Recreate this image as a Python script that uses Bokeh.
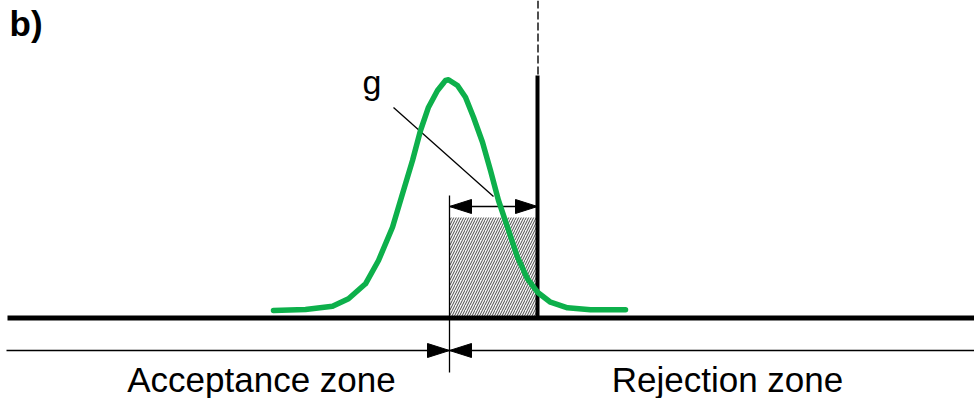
from bokeh.plotting import figure
from bokeh.models import Range1d
from bokeh.core.properties import value
from bokeh.embed import file_html
from bokeh.resources import INLINE

W, H = 974, 398

# Distribution curve (diagram coordinates, y grows downward)
curve_x = [273, 305, 332, 348, 365, 378, 392, 402, 412, 420, 428, 437, 445, 448,
           457, 465, 473, 482, 490, 498, 507, 517, 527, 537, 550, 567, 590, 625]
curve_y = [310, 309, 305.7, 298.3, 283.3, 260, 226.7, 193.3, 160, 130, 106.7, 90, 80, 79.3,
           85, 96.7, 116.7, 141.7, 170, 200, 226.7, 256.7, 278.3, 291.7, 301.7, 307.3, 309.3, 309.3]

# Axis lines
base_y = 317.5
base_x = [7, 974]
zone_line_y = 350
zone_line_x = [6, 974]

# Acceptance/rejection boundary and the specification limit
boundary_x = 449
boundary_y = [195, 372]
limit_x = 537
limit_top = 75
limit_dash_top = 0

# Guard band region
band_top = 217
g_arrow_y = 206

# Leader line to the guard band
leader_x = [393, 493]
leader_y = [107, 196]

# Labels
panel_label = "b)"
band_label = "g"
zone_labels = ["Acceptance zone", "Rejection zone"]
zone_label_x = [261, 727]
zone_label_y = 379

head_len, head_half = 22, 7

p = figure(width=W, height=H, x_range=Range1d(0, W), y_range=Range1d(H, 0),
           output_backend="svg", toolbar_location=None, min_border=0)
p.axis.visible = False
p.grid.visible = False
p.outline_line_color = None
p.background_fill_color = "white"
p.border_fill_color = "white"

# hatched guard band
p.quad(left=[boundary_x], right=[limit_x], top=[band_top], bottom=[base_y],
       fill_color="#f7f7f7", line_color=None,
       hatch_pattern="/", hatch_color="#4a4a4a", hatch_scale=5, hatch_weight=1)

# base line and zone line
p.line(base_x, [base_y, base_y], line_color="black", line_width=5)
p.line(zone_line_x, [zone_line_y, zone_line_y], line_color="black", line_width=1.3)

# boundary thin vertical line
p.line([boundary_x, boundary_x], boundary_y, line_color="black", line_width=1.3)

# specification limit: solid part and dashed extension
p.line([limit_x, limit_x], [limit_top, base_y], line_color="black", line_width=4)
p.line([limit_x + 0.5, limit_x + 0.5], [limit_dash_top, limit_top], line_color="#222222",
       line_width=1.6, line_dash="8 3")

# width arrow of the guard band and the zone boundary arrows
p.line([boundary_x, limit_x], [g_arrow_y, g_arrow_y], line_color="black", line_width=1.3)
p.patches(
    xs=[[boundary_x, boundary_x + head_len, boundary_x + head_len],
        [limit_x, limit_x - head_len, limit_x - head_len],
        [boundary_x, boundary_x - head_len, boundary_x - head_len],
        [boundary_x, boundary_x + head_len, boundary_x + head_len]],
    ys=[[g_arrow_y, g_arrow_y - head_half, g_arrow_y + head_half],
        [g_arrow_y, g_arrow_y - head_half, g_arrow_y + head_half],
        [zone_line_y, zone_line_y - head_half, zone_line_y + head_half],
        [zone_line_y, zone_line_y - head_half, zone_line_y + head_half]],
    fill_color="black", line_color="black", line_width=1)

# leader line
p.line(leader_x, leader_y, line_color="black", line_width=1.3)

# distribution curve
p.line(curve_x, curve_y, line_color="#0db04b", line_width=5.5, line_join="round", line_cap="round")

# labels
p.text(x=[9], y=[23], text=[panel_label], text_font=value("Liberation Sans"),
       text_font_size="35px", text_font_style="bold", text_baseline="alphabetic", text_color="black")
p.text(x=[362], y=[81], text=[band_label], text_font=value("Liberation Sans"),
       text_font_size="34px", text_baseline="alphabetic", text_color="black")
p.text(x=zone_label_x, y=[zone_label_y] * 2, text=zone_labels, text_font=value("Liberation Sans"),
       text_font_size="35px", text_align="center", text_baseline="alphabetic", text_color="black")

open("out.html", "w").write(file_html(p, INLINE))
